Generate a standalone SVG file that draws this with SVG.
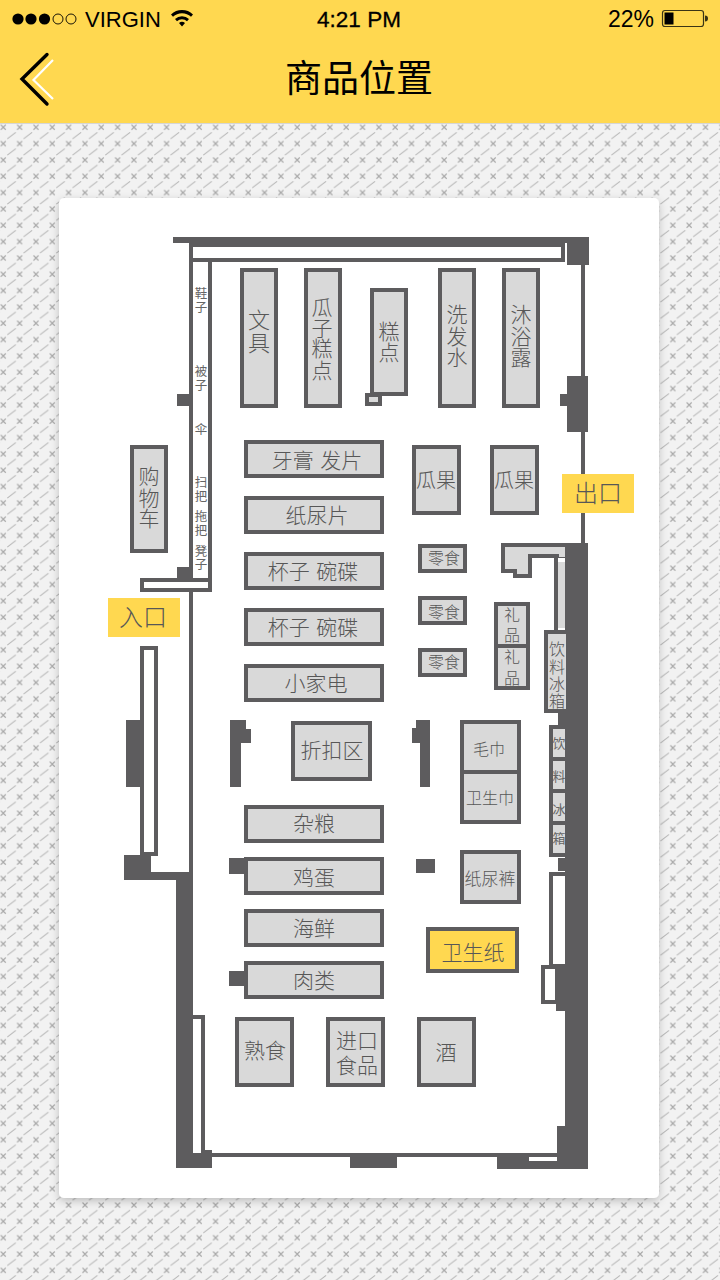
<svg xmlns="http://www.w3.org/2000/svg" width="720" height="1280" viewBox="0 0 720 1280">
<style>
.w{fill:#5d5c5e}
.e{fill:#fff}
.n{fill:#d9d9d9;stroke:#5d5c5e;stroke-width:4}
.c{fill:#d9d9d9}
.y{fill:#ffd850}
text{font-family:"Noto Sans CJK SC","Noto Sans",sans-serif;fill:#575757;text-anchor:middle;font-size:21px;font-weight:300;word-spacing:2px}
.s12{font-size:12.5px;font-weight:400;fill:#666}.s13{font-size:13px;font-weight:400;fill:#666}.s16{font-size:16px}.s17{font-size:17px}.s20{font-size:20px}.s22{font-size:22px}.s24{font-size:24px}
.st{font-family:"Liberation Sans",sans-serif;fill:#000;font-size:22px;font-weight:400;word-spacing:0}
</style>
<defs>
<pattern id="tex" patternUnits="userSpaceOnUse" width="16.33" height="16.33" x="0.3" y="124.3">
<rect width="16.33" height="16.33" fill="#f2f2f2"/>
<path d="M0.5 0.5l5 5M5.5 0.5l-5 5" stroke="#a8a8a8" stroke-width="1.1" fill="none"/>
<path d="M7 14.5l8.5-6.5" stroke="#b4b4b4" stroke-width="1" fill="none"/>
</pattern>
<filter id="sh" x="-5%" y="-5%" width="110%" height="110%"><feDropShadow dx="0" dy="3" stdDeviation="4" flood-color="#000" flood-opacity=".22"/></filter>
</defs>

<rect x="0" y="124" width="720" height="1156" fill="url(#tex)"/>
<g id="header">
<rect width="720" height="123" class="y"/>
<rect y="123" width="720" height="1" fill="#d6d6d6"/>
<circle cx="18" cy="19" r="5.6" fill="#000"/><circle cx="31" cy="19" r="5.6" fill="#000"/><circle cx="44.500" cy="19" r="5.600" fill="#000"/>
<circle cx="58" cy="19" r="5" fill="none" stroke="#000" stroke-width=".9"/><circle cx="71" cy="19" r="5" fill="none" stroke="#000" stroke-width=".9"/>
<text class="st" x="85" y="27" style="text-anchor:start">VIRGIN</text>
<path d="M171 15.500a16 16 0 0 1 22 0l-2 2.300a13 13 0 0 0-18 0zM175 20a10 10 0 0 1 14 0l-2 2.300a7 7 0 0 0-10 0zM179 24a4.500 4.500 0 0 1 6 0l-3 3.500z" fill="#000" transform="translate(0,-1)"/>
<text class="st" x="359" y="27" style="font-size:22.500px;stroke:#000;stroke-width:.3">4:21 PM</text>
<text class="st" x="654" y="27" style="text-anchor:end;font-size:23px">22%</text>
<rect x="662.500" y="10.500" width="41" height="16" rx="2.500" fill="none" stroke="#3a3415" stroke-width="1.200"/>
<rect x="664.500" y="12.500" width="9" height="12" fill="#000"/>
<path d="M705 15.500a3 3 0 0 1 0 6z" fill="#3a3415"/>
<path d="M53 60L33.500 80L53 99" fill="none" stroke="#fff" stroke-width="2.200"/>
<path d="M47 54.500L22 79L47 104" fill="none" stroke="#000" stroke-width="3.400" stroke-linecap="round"/>
<text x="359" y="92" style="font-size:37px;fill:#000;font-weight:400">商品位置</text>
</g>

<rect id="card" x="59" y="198" width="600" height="1000" rx="5" fill="#fff" filter="url(#sh)"/>

<g id="walls">
<rect class="w" x="173" y="237" width="416" height="6"/>
<rect class="w" x="189" y="237" width="376" height="25"/>
<rect class="e" x="193" y="247" width="368" height="11"/>
<rect class="w" x="567" y="237" width="22" height="28"/>
<rect class="w" x="581" y="265" width="4" height="278"/>
<path class="w" d="M567 376h21v56h-21v-26h-7v-12h7z"/>
<rect class="w" x="189" y="258" width="23" height="334"/>
<rect class="e" x="193" y="262" width="15" height="316"/>
<rect class="w" x="177" y="394" width="12" height="12"/>
<rect class="w" x="177" y="567" width="12" height="11"/>
<rect class="w" x="140" y="578" width="72" height="14"/>
<rect class="e" x="144" y="582" width="64" height="6"/>
<rect class="w" x="189" y="592" width="4" height="280"/>
<rect class="w" x="140" y="646" width="18" height="210"/>
<rect class="e" x="144" y="650" width="10" height="202"/>
<rect class="w" x="126" y="720" width="14" height="67"/>
<path class="w" d="M124 855h27v17h42v296h-17v-288h-52z"/>
<rect class="w" x="176" y="1150" width="36" height="18"/>
<rect class="w" x="193" y="1015" width="12" height="142"/>
<rect class="e" x="193" y="1019" width="8" height="134"/>
<rect class="w" x="193" y="1153" width="372" height="4"/>
<rect class="w" x="350" y="1157" width="47" height="11"/>
<rect class="w" x="497" y="1157" width="91" height="12"/>
<rect class="e" x="529" y="1157" width="28" height="4"/>
<rect class="w" x="557" y="1126" width="8" height="40"/>
<rect class="w" x="565" y="543" width="23" height="626"/>
<path class="w" d="M230 720h16v9h5v14h-10v44h-11z"/>
<path class="w" d="M416 720h14v67h-10v-44h-8v-15h4z"/>
<rect class="w" x="416" y="859" width="19" height="14"/>
<rect class="w" x="229" y="858" width="16" height="16"/>
<rect class="w" x="229" y="971" width="16" height="15"/>
<path class="w" d="M501 543h64v15h-7v72h-4v-72h-22v20h-19v-5h-12z"/>
<path class="c" d="M505 547h60v10h-6v-3h-31v20h-11v-5h-12z"/>
<rect class="c" x="558" y="562" width="7" height="66"/>
<rect class="w" x="558" y="713" width="7" height="12"/>
<rect class="w" x="558" y="858" width="7" height="13"/>
<rect class="w" x="549" y="872" width="16" height="93"/>
<rect class="e" x="553" y="876" width="12" height="88"/>
<rect class="w" x="541" y="965" width="24" height="39"/>
<rect class="e" x="545" y="969" width="10" height="31"/>
<rect class="w" x="556" y="1000" width="9" height="11"/>
</g>

<g id="shelf-labels">
<text class="s12" x="201" y="298">鞋<tspan x="201" dy="14">子</tspan></text>
<text class="s12" x="201" y="376">被<tspan x="201" dy="14">子</tspan></text>
<text class="s12" x="201" y="434">伞</text>
<text class="s12" x="201" y="487">扫<tspan x="201" dy="14">把</tspan></text>
<text class="s12" x="201" y="521">拖<tspan x="201" dy="14">把</tspan></text>
<text class="s12" x="201" y="556">凳<tspan x="201" dy="13">子</tspan></text>
</g>

<g id="n-wenju"><rect class="n" x="242" y="270" width="34" height="136"/><text class="s22" x="259" y="328">文<tspan x="259" dy="23">具</tspan></text></g>
<g id="n-guazi"><rect class="n" x="306" y="270" width="34" height="136"/><text x="322" y="315">瓜<tspan x="322" dy="21">子</tspan><tspan x="322" dy="20">糕</tspan><tspan x="322" dy="22">点</tspan></text></g>
<g id="n-gaodian"><rect class="n" x="372" y="290" width="34" height="104"/><text x="389" y="339">糕<tspan x="389" dy="21">点</tspan></text></g>
<g id="n-small"><rect class="n" x="367" y="395" width="13" height="9"/></g>
<g id="n-xifa"><rect class="n" x="440" y="270" width="34" height="136"/><text x="457" y="322">洗<tspan x="457" dy="22">发</tspan><tspan x="457" dy="21">水</tspan></text></g>
<g id="n-muyu"><rect class="n" x="504" y="270" width="34" height="136"/><text x="521" y="322">沐<tspan x="521" dy="22">浴</tspan><tspan x="521" dy="21">露</tspan></text></g>
<g id="n-cart"><rect class="n" x="132" y="447" width="34" height="104"/><text x="149" y="484">购<tspan x="149" dy="22">物</tspan><tspan x="149" dy="20">车</tspan></text></g>
<g id="n-yagao"><rect class="n" x="246" y="442" width="136" height="34"/><text x="317" y="468">牙膏 发片</text></g>
<g id="n-niaopian"><rect class="n" x="246" y="498" width="136" height="34"/><text x="317" y="523">纸尿片</text></g>
<g id="n-beizi1"><rect class="n" x="246" y="554" width="136" height="34"/><text x="313" y="579">杯子 碗碟</text></g>
<g id="n-beizi2"><rect class="n" x="246" y="610" width="136" height="34"/><text x="313" y="635">杯子 碗碟</text></g>
<g id="n-jiadian"><rect class="n" x="246" y="666" width="136" height="34"/><text x="316" y="691">小家电</text></g>
<g id="n-zhekou"><rect class="n" x="293" y="723" width="77" height="56"/><text x="332" y="758">折扣区</text></g>
<g id="n-zaliang"><rect class="n" x="246" y="807" width="136" height="34"/><text x="314" y="831">杂粮</text></g>
<g id="n-jidan"><rect class="n" x="246" y="859" width="136" height="34"/><text x="314" y="885">鸡蛋</text></g>
<g id="n-haixian"><rect class="n" x="246" y="911" width="136" height="34"/><text x="314" y="936">海鲜</text></g>
<g id="n-roulei"><rect class="n" x="246" y="963" width="136" height="34"/><text x="314" y="988">肉类</text></g>
<g id="n-shushi"><rect class="n" x="237" y="1019" width="55" height="66"/><text x="265" y="1058">熟食</text></g>
<g id="n-jinkou"><rect class="n" x="328" y="1019" width="55" height="66"/><text x="357" y="1048">进口<tspan x="357" dy="25">食品</tspan></text></g>
<g id="n-jiu"><rect class="n" x="419" y="1019" width="55" height="66"/><text x="446" y="1060">酒</text></g>
<g id="n-weishengzhi"><rect x="428" y="929" width="89" height="42" fill="#ffd850" stroke="#5d5c5e" stroke-width="4"/><text x="473" y="960">卫生纸</text></g>
<g id="n-maojin"><rect class="n" x="462" y="722" width="57" height="50"/><text class="s16" x="489" y="755">毛巾</text></g>
<g id="n-weishengjin"><rect class="n" x="462" y="772" width="57" height="50"/><text class="s16" x="490" y="804">卫生巾</text></g>
<g id="n-niaoku"><rect class="n" x="462" y="852" width="57" height="50"/><text class="s17" x="490" y="885">纸尿裤</text></g>
<g id="n-guaguo1"><rect class="n" x="414" y="447" width="45" height="66"/><text class="s20" x="436" y="488">瓜果</text></g>
<g id="n-guaguo2"><rect class="n" x="492" y="447" width="45" height="66"/><text class="s20" x="514" y="488">瓜果</text></g>
<g id="n-lingshi1"><rect class="n" x="420" y="546" width="45" height="25"/><text class="s16" x="444" y="564">零食</text></g>
<g id="n-lingshi2"><rect class="n" x="420" y="598" width="45" height="25"/><text class="s16" x="444" y="618">零食</text></g>
<g id="n-lingshi3"><rect class="n" x="420" y="650" width="45" height="25"/><text class="s16" x="444" y="668">零食</text></g>
<g id="n-lipin1"><rect class="n" x="496" y="604" width="32" height="42"/><text class="s16" x="512" y="621">礼<tspan x="512" dy="20">品</tspan></text></g>
<g id="n-lipin2"><rect class="n" x="496" y="646" width="32" height="42"/><text class="s16" x="512" y="663">礼<tspan x="512" dy="21">品</tspan></text></g>
<g id="n-fridge1"><rect class="n" x="546" y="632" width="22" height="79"/><text class="s16" x="557" y="655">饮<tspan x="557" dy="18">料</tspan><tspan x="557" dy="17">冰</tspan><tspan x="557" dy="17">箱</tspan></text></g>
<g id="n-fridge2"><rect class="w" x="549" y="725" width="16" height="132"/><rect class="c" x="553" y="729" width="12" height="28"/><rect class="c" x="553" y="761" width="12" height="28"/><rect class="c" x="553" y="793" width="12" height="28"/><rect class="c" x="553" y="825" width="12" height="28"/><text class="s13" x="559" y="748">饮</text><text class="s13" x="559" y="781">料</text><text class="s13" x="559" y="814">冰</text><text class="s13" x="559" y="843">箱</text></g>
<g id="exit"><rect class="y" x="562" y="474" width="72" height="39"/><text class="s24" x="598" y="502">出口</text></g>
<g id="entrance"><rect class="y" x="108" y="598" width="72" height="39"/><text class="s24" x="143" y="626">入口</text></g>
</svg>
